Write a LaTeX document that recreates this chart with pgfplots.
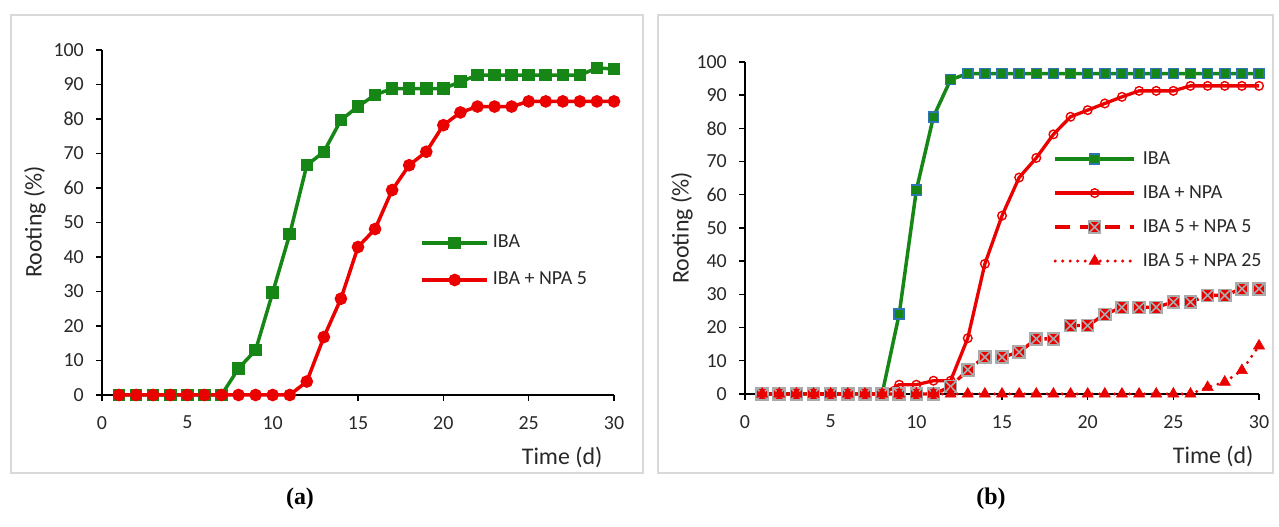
\documentclass[border=0pt]{standalone}
\usepackage{pgfplots}
\pgfplotsset{compat=1.18}
\usepackage{fontspec}
\setmainfont{Carlito}
\newfontfamily\capfont{Liberation Serif}

\definecolor{xgreen}{RGB}{22,135,22}
\definecolor{xred}{RGB}{235,0,0}
\definecolor{xblue}{RGB}{46,117,182}
\definecolor{bordergray}{RGB}{217,217,217}
\definecolor{ticktext}{RGB}{40,40,40}
\definecolor{xgray}{RGB}{170,170,170}

\pgfdeclareplotmark{sqx}{%
  \pgfpathrectangle{\pgfpoint{-\pgfplotmarksize}{-\pgfplotmarksize}}{\pgfpoint{2\pgfplotmarksize}{2\pgfplotmarksize}}%
  \pgfusepathqfillstroke
  \pgfpathmoveto{\pgfpoint{-\pgfplotmarksize}{-\pgfplotmarksize}}%
  \pgfpathlineto{\pgfpoint{\pgfplotmarksize}{\pgfplotmarksize}}%
  \pgfpathmoveto{\pgfpoint{-\pgfplotmarksize}{\pgfplotmarksize}}%
  \pgfpathlineto{\pgfpoint{\pgfplotmarksize}{-\pgfplotmarksize}}%
  \pgfusepathqstroke}

\pgfplotsset{
  panel/.style={
    scale only axis,
    xmin=0, xmax=30, ymin=0, ymax=100,
    xtick={0,5,...,30}, ytick={0,10,...,100},
    axis lines=left,
    axis line style={-, black, line width=1.4bp},
    tick align=outside,
    major tick length=6bp,
    tick style={black, line width=1.4bp},
    clip=false,
    /pgf/number format/assume math mode=true,
    tick label style={font=\fontsize{20}{24}\selectfont, text=ticktext, inner sep=0pt},
    yticklabel style={anchor=east, xshift=-12bp},
    xticklabel style={anchor=north, yshift=-15bp},
    legend cell align=left,
    legend style={draw=none, fill=none, inner sep=0pt, outer sep=0pt,
      font=\fontsize{20}{24}\selectfont, text=ticktext,
      nodes={inner sep=0pt, text height=14bp, text depth=4bp}},
  },
}

\begin{document}
\begin{tikzpicture}[x=1bp,y=1bp]
\useasboundingbox (0,0) rectangle (1279,527);
\draw[bordergray, line width=1.5bp] (11,54) rectangle (643,512);
\draw[bordergray, line width=1.5bp] (658,54) rectangle (1273,512);

% ---------------- panel (a)
\begin{axis}[panel,
  at={(102bp,132bp)}, anchor=south west,
  width=512bp, height=345bp,
  legend style={at={(0.622,0.387)}, anchor=west, row sep=19bp, column sep=4bp},
  legend image code/.code={\draw[mark repeat=2,mark phase=2,#1] plot coordinates {(0bp,0bp) (32.5bp,0bp) (65bp,0bp)};},
]
\addplot[xgreen, line width=3.5bp, mark=square*, mark size=4.5bp, mark options={solid}] coordinates {
(1,0) (2,0) (3,0) (4,0) (5,0) (6,0) (7,0) (8,7.7) (9,13.0) (10,29.7)
(11,46.6) (12,66.6) (13,70.5) (14,79.7) (15,83.6) (16,87.0) (17,88.8) (18,88.8) (19,88.8) (20,88.8)
(21,90.8) (22,92.7) (23,92.7) (24,92.7) (25,92.7) (26,92.7) (27,92.7) (28,92.7) (29,94.8) (30,94.5)};
\addlegendentry{IBA}
\addplot[xred, line width=3.5bp, mark=*, mark size=4.5bp, mark options={solid}] coordinates {
(1,0) (2,0) (3,0) (4,0) (5,0) (6,0) (7,0) (8,0) (9,0) (10,0)
(11,0) (12,3.9) (13,16.8) (14,27.9) (15,42.9) (16,48.1) (17,59.4) (18,66.6) (19,70.5) (20,78.2)
(21,81.9) (22,83.6) (23,83.6) (24,83.6) (25,85.1) (26,85.1) (27,85.1) (28,85.1) (29,85.1) (30,85.1)};
\addlegendentry{IBA + NPA 5}
\end{axis}

% ---------------- panel (b)
\begin{axis}[panel,
  at={(745bp,133bp)}, anchor=south west,
  width=514bp, height=332bp,
  legend style={at={(0.600,0.554)}, anchor=west, row sep=16bp, column sep=7bp},
  legend image code/.code={\draw[mark repeat=2,mark phase=2,#1] plot coordinates {(0bp,0bp) (39.5bp,0bp) (79bp,0bp)};},
]
\addplot[xgreen, line width=3.5bp, mark=square*, mark size=5bp,
  mark options={solid, fill=xgreen, draw=xblue, line width=1.5bp}] coordinates {
(1,0) (2,0) (3,0) (4,0) (5,0) (6,0) (7,0) (8,0) (9,24.1) (10,61.4)
(11,83.5) (12,94.7) (13,96.5) (14,96.5) (15,96.5) (16,96.5) (17,96.5) (18,96.5) (19,96.5) (20,96.5)
(21,96.5) (22,96.5) (23,96.5) (24,96.5) (25,96.5) (26,96.5) (27,96.5) (28,96.5) (29,96.5) (30,96.5)};
\addlegendentry{IBA}
\addplot[xred, line width=3.3bp, mark=o, mark size=4.3bp,
  mark options={solid, fill=white, draw=xred, line width=1.4bp}] coordinates {
(1,0) (2,0) (3,0) (4,0) (5,0) (6,0) (7,0) (8,0) (9,2.8) (10,2.8)
(11,4.0) (12,4.0) (13,16.8) (14,39.2) (15,53.7) (16,65.2) (17,71.1) (18,78.2) (19,83.5) (20,85.5)
(21,87.5) (22,89.5) (23,91.3) (24,91.3) (25,91.3) (26,92.8) (27,92.8) (28,92.8) (29,92.8) (30,92.8)};
\addlegendentry{IBA + NPA}
\addplot[xred, line width=3.3bp, dash pattern=on 15bp off 10bp, mark=sqx, mark size=6bp,
  mark options={solid, fill=xred, draw=xgray, line width=1.6bp}] coordinates {
(1,0) (2,0) (3,0) (4,0) (5,0) (6,0) (7,0) (8,0) (9,0) (10,0)
(11,0) (12,2.2) (13,7.3) (14,11.1) (15,11.1) (16,12.6) (17,16.6) (18,16.6) (19,20.6) (20,20.6)
(21,24.0) (22,26.1) (23,26.1) (24,26.1) (25,27.7) (26,27.7) (27,29.7) (28,29.7) (29,31.7) (30,31.7)};
\addlegendentry{IBA 5 + NPA 5}
\addplot[xred, line width=3.3bp, dash pattern=on 0bp off 7.5bp, line cap=round, mark=triangle*, mark size=6.5bp,
  mark options={solid, fill=xred, draw=xred, line width=0.5bp}] coordinates {
(1,0) (2,0) (3,0) (4,0) (5,0) (6,0) (7,0) (8,0) (9,0) (10,0)
(11,0) (12,0) (13,0) (14,0) (15,0) (16,0) (17,0) (18,0) (19,0) (20,0)
(21,0) (22,0) (23,0) (24,0) (25,0) (26,0) (27,2.0) (28,3.6) (29,7.1) (30,14.5)};
\addlegendentry{IBA 5 + NPA 25}
\end{axis}

% axis titles
\node[rotate=90, text=ticktext, font=\fontsize{24}{28}\selectfont] at (35,305) {Rooting (\%)};
\node[rotate=90, text=ticktext, font=\fontsize{24}{28}\selectfont] at (682,299) {Rooting (\%)};
\node[anchor=east, text=ticktext, font=\fontsize{24}{28}\selectfont] at (606,70) {Time (d)};
\node[anchor=east, text=ticktext, font=\fontsize{24}{28}\selectfont] at (1257,71) {Time (d)};

% panel captions
\node[font=\capfont\bfseries\fontsize{24}{28}\selectfont] at (300,28) {(a)};
\node[font=\capfont\bfseries\fontsize{24}{28}\selectfont] at (991,28) {(b)};
\end{tikzpicture}
\end{document}
